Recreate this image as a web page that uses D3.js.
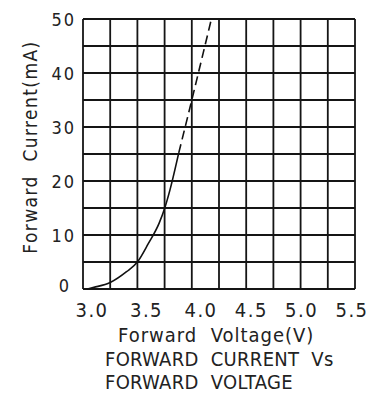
<!DOCTYPE html>
<html>
<head>
<meta charset="utf-8">
<script src="https://cdn.jsdelivr.net/npm/d3@7"></script>
<style>
  body { margin: 0; background: #fff; }
  svg text { font-family: "DejaVu Sans Condensed", "DejaVu Sans", sans-serif; font-stretch: condensed; fill: #222; white-space: pre; }
</style>
</head>
<body>
<div id="chart"></div>
<script>
// measured curve (solid part) and extrapolated part (dashed)
var solidV = [3.04, 3.1, 3.25, 3.4, 3.5, 3.6, 3.7, 3.75, 3.8, 3.88];
var solidI = [0, 0.3, 1.2, 3.2, 5, 8.4, 12.2, 14.9, 18.4, 25.2];
var dashV = [3.88, 4.0, 4.18];
var dashI = [25.2, 35, 50];

var xTickLabels = ["3.0", "3.5", "4.0", "4.5", "5.0", "5.5"];
var yTickLabels = ["0", "10", "20", "30", "40", "50"];

var width = 386, height = 402;
var margin = {top: 19, right: 31, bottom: 113, left: 83};

var svg = d3.select("#chart")
            .append("svg")
            .attr("width", width)
            .attr("height", height);

var x = d3.scaleLinear()
          .domain([3.0, 5.5])
          .range([margin.left, width - margin.right]);

var y = d3.scaleLinear()
          .domain([0, 50])
          .range([height - margin.bottom, margin.top]);

// tick labels in the source sit a bit off the grid lines
var xLabel = d3.scaleLinear().domain([3.0, 4.0, 5.5]).range([92, 201, 352]);

// grid
var grid = svg.append("g").attr("class", "grid")
              .style("stroke", "#151515")
              .style("stroke-width", 1.8);

grid.selectAll("line.v")
    .data(d3.range(0, 11).map(function(i) { return 3.0 + i * 0.25; }))
  .enter().append("line")
    .attr("class", "v")
    .attr("x1", function(d) { return x(d); })
    .attr("x2", function(d) { return x(d); })
    .attr("y1", y(0))
    .attr("y2", y(50));

grid.selectAll("line.h")
    .data(d3.range(0, 11).map(function(i) { return i * 5; }))
  .enter().append("line")
    .attr("class", "h")
    .attr("x1", x(3.0))
    .attr("x2", x(5.5))
    .attr("y1", function(d) { return y(d); })
    .attr("y2", function(d) { return y(d); });

// tick labels
svg.selectAll("text.xt")
    .data(xTickLabels)
  .enter().append("text")
    .attr("class", "xt")
    .attr("x", function(d) { return xLabel(+d); })
    .attr("y", 317)
    .attr("text-anchor", "middle")
    .style("font-size", "20px")
    .style("letter-spacing", "1.5px")
    .text(function(d) { return d; });

svg.selectAll("text.yt")
    .data(yTickLabels)
  .enter().append("text")
    .attr("class", "yt")
    .attr("x", function(d) { return d === "0" ? 71 : 76; })
    .attr("y", function(d) { return y(+d) + (d === "0" ? 3 : 7); })
    .attr("text-anchor", "end")
    .style("font-size", "18px")
    .style("letter-spacing", "2px")
    .text(function(d) { return d; });

// curve
var line = d3.line()
             .x(function(d) { return x(d[0]); })
             .y(function(d) { return y(d[1]); })
             .curve(d3.curveMonotoneX);

svg.append("path")
   .datum(d3.zip(solidV, solidI))
   .attr("d", line)
   .style("fill", "none")
   .style("stroke", "#111")
   .style("stroke-width", 1.6);

svg.append("path")
   .datum(d3.zip(dashV, dashI))
   .attr("d", line)
   .style("fill", "none")
   .style("stroke", "#111")
   .style("stroke-width", 1.6)
   .style("stroke-dasharray", "9,5");

// axis titles
svg.append("text")
   .attr("transform", "translate(37,147) rotate(-90)")
   .attr("text-anchor", "middle")
   .style("font-size", "19px")
   .style("letter-spacing", "1.4px")
   .text("Forward  Current(mA)");

svg.append("text")
   .attr("x", 118)
   .attr("y", 342)
   .style("font-size", "20px")
   .style("letter-spacing", "1px")
   .text("Forward  Voltage(V)");

svg.append("text")
   .attr("x", 105)
   .attr("y", 366)
   .style("font-size", "20px")
   .style("letter-spacing", "0.3px")
   .text("FORWARD  CURRENT  Vs");

svg.append("text")
   .attr("x", 105)
   .attr("y", 389)
   .style("font-size", "20px")
   .style("letter-spacing", "0.3px")
   .text("FORWARD  VOLTAGE");
</script>
</body>
</html>
